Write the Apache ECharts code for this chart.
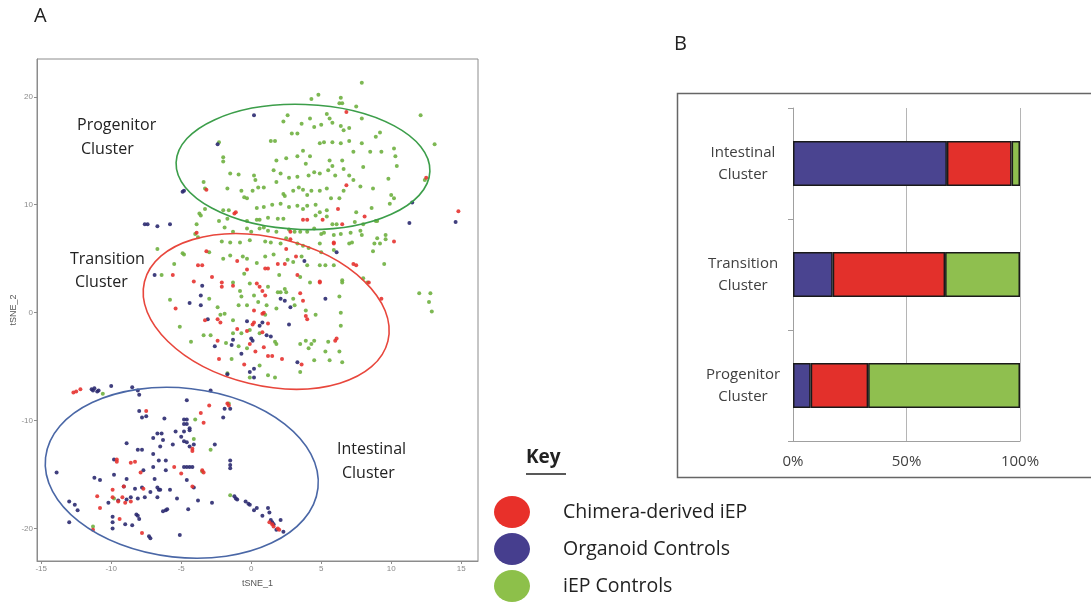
<!DOCTYPE html>
<html>
<head>
<meta charset="utf-8">
<script src="https://cdn.jsdelivr.net/npm/echarts@6/dist/echarts.min.js"></script>
<style>html,body{margin:0;padding:0;background:#fff;}#chart{width:1091px;height:603px;}</style>
</head>
<body>
<div id="chart"></div>
<script>
// ---------- Panel A: tSNE scatter ----------
var xTicks = [-15, -10, -5, 0, 5, 10, 15];
var yTicks = [-20, -10, 0, 10, 20];

var iepControls = [
[7.9,21.3],[4.8,20.2],[4.3,19.8],[6.4,19.9],[6.3,19.4],[6.5,19.4],[7.5,19.1],[12.1,18.3],[2.6,18.3],[4.2,18.0],[5.4,18.4],[5.6,18.0],[7.9,18.0],[2.3,17.7],[3.6,17.5],[4.5,17.2],[5.0,17.4],[5.8,17.6],[6.4,17.3],[7.0,17.1],[6.6,16.9],[9.2,16.7],[8.9,16.3],[2.9,16.6],[3.3,16.6],[-2.3,15.8],[1.4,15.9],[1.7,15.9],[4.9,15.7],[5.2,15.8],[5.8,15.8],[6.4,15.7],[7.0,15.9],[7.9,15.7],[13.1,15.6],[-2.0,14.4],[-2.0,14.0],[1.8,14.1],[2.5,14.3],[3.3,14.5],[3.7,15.0],[4.2,14.5],[3.9,13.8],[5.6,14.1],[5.8,13.6],[6.5,14.1],[7.3,14.9],[8.5,14.9],[8.0,13.5],[9.3,14.9],[10.2,15.2],[10.3,14.5],[10.4,13.6],[-1.5,12.9],[-0.9,12.8],[0.2,12.7],[0.3,12.3],[1.6,13.2],[2.1,12.9],[2.7,12.5],[3.3,12.6],[4.1,12.7],[4.5,13.0],[4.9,12.9],[5.5,13.2],[6.0,12.7],[6.6,13.3],[7.0,12.7],[7.3,12.3],[7.8,11.7],[9.8,12.4],[12.4,12.3],[-3.3,11.5],[-1.7,11.5],[-0.7,11.3],[-0.5,10.7],[-0.3,10.6],[0.1,11.3],[0.5,11.6],[0.9,11.6],[1.8,12.1],[2.3,11.0],[2.4,10.8],[3.0,11.3],[3.4,11.6],[3.7,11.4],[4.0,10.9],[4.3,11.3],[4.9,11.3],[5.4,11.5],[5.7,10.6],[6.3,10.6],[6.6,11.3],[8.7,11.5],[10.0,10.9],[10.2,10.6],[-3.7,9.2],[-3.6,9.0],[-2.0,9.5],[-1.6,9.5],[0.4,9.7],[0.9,9.8],[1.5,10.0],[2.1,10.1],[2.7,9.8],[3.3,9.9],[3.7,9.6],[4.0,9.9],[4.6,10.0],[4.9,9.3],[5.4,9.5],[7.5,9.3],[8.6,9.7],[9.0,8.5],[9.9,10.1],[-2.3,8.5],[-1.7,8.7],[-0.3,8.5],[0.4,8.6],[0.6,8.6],[1.2,8.8],[1.9,8.7],[2.3,8.7],[4.6,9.0],[5.4,8.9],[5.8,8.2],[6.1,8.2],[7.4,8.4],[8.0,8.2],[8.9,8.5],[-3.9,8.2],[-3.8,7.0],[-1.9,7.9],[-1.3,7.5],[-0.3,7.8],[0.0,7.5],[0.6,7.8],[0.9,7.9],[1.2,7.6],[1.8,7.5],[2.7,7.7],[3.1,7.5],[3.5,7.5],[4.0,7.5],[4.5,7.8],[5.0,7.3],[5.2,7.4],[5.9,7.2],[6.4,7.3],[7.1,7.4],[7.8,7.6],[9.0,6.9],[9.6,6.8],[9.2,6.4],[-6.7,5.9],[-4.9,5.5],[-3.0,5.6],[-2.1,6.6],[-1.5,6.5],[-0.8,6.5],[-0.1,6.7],[1.0,6.6],[1.4,6.5],[2.1,6.4],[2.5,6.9],[3.3,6.4],[3.7,6.2],[4.1,6.0],[4.9,6.4],[5.0,5.6],[5.9,5.8],[7.2,6.5],[8.7,5.7],[9.5,4.5],[7.0,6.4],[7.9,7.2],[8.8,6.4],[9.6,7.2],
[-6.4,3.5],[-5.5,4.5],[-4.8,5.4],[-4.0,7.3],[-3.3,9.6],[-3.4,12.1],[-2.0,5.0],[-1.5,5.3],[-0.6,5.2],[-0.3,5.0],[0.4,4.6],[1.0,5.2],[1.6,5.4],[2.6,4.9],[3.0,4.7],[3.6,5.2],[4.0,4.4],[4.9,4.4],[5.3,4.4],[5.9,4.4],[6.5,3.0],[8.0,3.2],[8.3,2.8],
[-1.3,2.8],[-0.1,2.7],[1.2,2.4],[1.9,1.9],[2.1,1.9],[2.4,2.2],[2.5,1.9],[4.2,2.8],[6.5,2.8],[0.2,1.6],[-0.8,2.0],[-0.7,1.5],[-5.8,1.2],[-3.0,1.3],[-2.4,0.5],[-1.9,-0.1],[-2.2,-0.2],[-0.9,0.7],[-0.3,0.7],[0.5,1.0],[1.0,-0.2],[1.1,0.7],[1.8,0.4],[3.0,1.3],[3.1,0.7],[3.9,0.2],[4.6,-0.2],[6.3,1.5],[6.4,0.0],[6.4,-1.2],[-1.3,-0.7],[-5.1,-1.3],[-3.4,-2.1],[-2.9,-2.1],[-4.3,-2.7],[-1.3,-1.9],[-0.7,-1.9],[-0.1,-1.6],[0.6,-1.9],[1.7,-2.7],[-1.8,-2.8],[-0.9,-3.1],[-0.3,-3.3],[1.8,-2.9],[3.5,-2.9],[3.9,-2.6],[4.3,-2.9],[4.5,-2.6],[4.1,-3.3],[5.5,-2.7],[6.3,-3.6],[5.3,-3.6],[3.5,-5.5],[4.5,-4.4],[5.6,-4.4],[6.5,-4.6],[-1.4,-4.3],[0.6,-4.9],[-0.1,-6.0],[1.2,-5.8],[1.7,-6.0],[-1.7,-5.6],[12.8,1.8],[12.7,1.0],[12.9,0.1],[12.0,1.8],[3.5,3.3],[2.0,3.5],[-0.5,3.6],
[-10.6,-7.5],[-4.0,-9.9],[-4.1,-11.7],[-2.9,-12.7],[-3.5,-14.7],[-9.8,-17.2],[-1.5,-16.9],[-11.3,-19.8],[-1.6,-8.4]
];

var chimeraIEP = [
[6.8,18.6],[12.5,12.5],[-3.2,11.4],[6.8,11.8],[-1.2,9.2],[6.2,9.6],[8.1,8.9],[3.7,8.6],[4.0,8.6],[5.1,8.6],[6.5,8.2],[-3.9,7.4],[2.8,7.5],[10.2,6.6],[-3.2,5.7],[2.8,6.8],[5.9,6.5],[7.5,4.4],[-3.8,4.4],[-3.5,4.4],[14.8,9.4],[-1.1,9.3],
[-5.6,3.5],[-1.0,4.8],[-0.3,4.0],[1.0,4.1],[1.2,4.1],[1.9,4.5],[2.4,4.5],[3.2,5.2],[2.5,5.9],[-2.8,3.3],[-2.1,2.8],[3.3,3.5],[5.9,6.4],[4.9,2.9],[8.4,2.8],[9.3,1.3],[7.3,4.5],
[-4.1,2.9],[-2.1,2.4],[-1.3,2.5],[0.6,2.4],[0.4,2.7],[1.0,1.6],[0.8,2.0],[3.5,1.8],[4.9,2.8],[-5.4,0.4],[0.2,0.2],[0.8,-0.1],[0.9,0.0],[3.7,1.1],[3.9,-0.3],[4.0,-0.6],[-3.3,-0.7],[-2.4,-0.6],[-2.2,-0.9],[0.1,-1.1],[0.2,-0.9],[1.2,-1.0],[-1.0,-1.5],[-0.3,-1.7],[0.8,-1.8],[-0.1,-2.9],[-2.4,-2.6],[0.3,-3.6],[0.9,-3.2],[2.2,-4.3],[1.2,-4.0],[1.5,-4.0],[6.0,-2.6],[6.1,-2.4],[3.6,-4.8],[-2.3,-4.3],[-0.5,-4.8],
[-12.7,-7.4],[-12.5,-7.3],[-12.2,-7.1],[-3.0,-8.6],[-1.7,-8.4],[-1.6,-8.6],[-3.6,-9.3],[-3.4,-10.2],[-7.5,-9.1],[-4.2,-12.6],[-4.2,-12.8],[-9.6,-13.6],[-9.6,-13.8],[-8.6,-13.9],[-8.3,-13.8],[-5.5,-14.3],[-7.9,-14.8],[-5.0,-14.9],[-3.5,-14.6],[-3.4,-14.8],[-4.2,-16.1],[-9.9,-16.4],[-9.1,-16.1],[-7.7,-16.3],[-11.0,-17.0],[-10.8,-18.1],[-9.9,-17.1],[-9.2,-17.1],[-9.5,-17.5],[-9.0,-17.6],[-8.6,-17.5],[-9.4,-19.1],[-7.8,-20.4],[1.3,-19.4],[1.5,-19.6],[1.6,-19.8],[1.9,-20.0],[2.0,-20.1],[-11.3,-20.1]
];

var organoidControls = [
[0.2,18.3],[-2.4,15.6],[11.5,10.2],[11.3,8.3],[14.6,8.4],[-7.6,8.2],[-7.4,8.2],[-6.7,8.0],[-5.8,8.2],[6.1,5.6],[-4.9,11.2],[-4.8,11.3],[-6.9,3.5],[3.8,4.8],
[-3.5,2.5],[-4.4,0.9],[-3.6,0.7],[-3.6,1.6],[2.1,1.3],[2.4,1.1],[2.8,0.5],[5.3,1.3],[-3.1,-0.6],[-0.3,-0.8],[0.6,-1.2],[0.8,-0.9],[2.7,-1.1],[1.1,-2.1],[1.4,-2.2],[0.0,-2.4],[0.1,-2.6],[-2.6,-3.1],[-1.4,-3.0],[-1.3,-2.5],[-0.7,-3.8],[3.3,-4.6],[0.2,-5.2],[-0.1,-5.5],[-1.7,-5.7],[0.2,-6.0],
[-11.4,-7.1],[-11.3,-7.2],[-11.2,-7.0],[-11.0,-7.3],[-10.9,-7.2],[-10.0,-6.8],[-8.5,-6.9],[-8.1,-7.2],[-8.0,-7.6],[-4.6,-8.1],[-2.9,-7.2],[-1.9,-8.9],[-1.5,-8.9],[-2.0,-9.7],[-8.0,-9.1],[-7.8,-9.7],[-7.5,-9.6],[-6.2,-9.8],[-4.8,-9.9],[-4.6,-9.9],[-4.8,-10.3],[-4.6,-10.3],[-5.4,-11.0],[-4.8,-11.0],[-4.4,-10.7],[-4.4,-10.9],[-6.7,-11.2],[-6.4,-11.2],[-7.0,-11.6],[-6.3,-11.8],[-5.0,-11.5],[-4.8,-11.9],[-4.6,-12.0],[-4.1,-12.2],[-4.4,-12.4],[-2.6,-12.2],[-5.6,-12.2],[-6.5,-12.4],[-8.9,-12.1],[-8.1,-12.7],[-7.8,-12.7],[-7.0,-13.1],[-9.8,-13.6],[-6.6,-13.7],[-6.1,-13.7],[-1.5,-13.7],[-1.5,-14.1],[-1.5,-14.4],[-4.8,-14.3],[-4.6,-14.3],[-4.4,-14.3],[-4.2,-14.3],[-6.1,-14.6],[-7.0,-14.3],[-7.7,-14.6],[-8.9,-15.4],[-6.9,-15.4],[-4.6,-15.5],[-4.1,-16.2],[-13.9,-14.8],[-11.2,-15.3],[-10.8,-15.5],[-9.8,-15.0],[-9.1,-16.1],[-8.3,-16.3],[-7.8,-16.2],[-6.7,-16.2],[-6.5,-16.4],[-5.8,-16.4],[-10.2,-17.6],[-9.5,-17.4],[-8.9,-17.3],[-8.6,-17.1],[-8.1,-17.2],[-7.6,-17.1],[-7.2,-16.6],[-6.7,-17.1],[-6.6,-16.4],[-6.3,-18.4],[-6.1,-18.3],[-6.0,-18.2],[-5.3,-17.2],[-4.5,-18.2],[-3.8,-17.4],[-2.8,-17.6],[-1.2,-17.0],[-1.1,-17.2],[-1.0,-17.3],[-0.4,-17.5],[-0.2,-17.7],[-0.1,-17.8],[0.2,-18.3],[0.4,-18.1],[0.8,-18.8],[1.2,-18.1],[1.3,-18.5],[1.4,-19.2],[1.5,-19.4],[1.6,-19.6],[1.8,-20.1],[2.1,-19.2],[2.3,-20.3],[-13.0,-17.5],[-12.6,-17.8],[-12.4,-18.3],[-13.0,-19.4],[-9.9,-18.9],[-9.9,-19.4],[-9.9,-20.0],[-9.0,-19.6],[-8.5,-19.7],[-8.2,-18.7],[-8.1,-18.8],[-8.0,-19.1],[-7.3,-20.7],[-7.2,-20.9],[-5.1,-20.6]
];

// cluster ellipses: [centre x, centre y, semi-axis x, semi-axis y, tilt deg clockwise]
var clusterEllipses = [
[3.7, 13.5, 9.07, 5.79, 2],
[1.07, 0.12, 8.95, 6.85, 13.7],
[-4.96, -14.83, 9.79, 7.84, 6.4]
];
var clusterEllipseColors = ['#3c9e4a', '#e8463c', '#4a67a6'];

// ---------- Panel B: stacked proportions ----------
var barCategories = ['Progenitor Cluster', 'Transition Cluster', 'Intestinal Cluster'];
var organoidShare = [7.8, 17.5, 67.8];
var chimeraShare = [25.3, 49.5, 28.5];
var iepShare = [66.9, 33.0, 3.7];

var legendNames = ['Chimera-derived iEP', 'Organoid Controls', 'iEP Controls'];

var FONT = 'Open Sans';
var chart = echarts.init(document.getElementById('chart'), null, {renderer: 'canvas'});

var ellipsePath = 'path://M0,16 A18,16 0 1,1 36,16 A18,16 0 1,1 0,16 Z';

var option = {
  backgroundColor: '#ffffff',
  animation: false,
  legend: {
    orient: 'vertical',
    left: 494,
    top: 496,
    padding: 0,
    height: 107,
    itemWidth: 36,
    itemHeight: 32,
    itemGap: 5,
    selectedMode: false,
    icon: ellipsePath,
    textStyle: {fontFamily: FONT, fontSize: 19.5, color: '#222', padding: [0, 0, 0, 28]},
    data: [
      {name: legendNames[0], itemStyle: {color: '#e8302a', opacity: 1}},
      {name: legendNames[1], itemStyle: {color: '#463e8e', opacity: 1}},
      {name: legendNames[2], itemStyle: {color: '#8dc04a', opacity: 1}}
    ]
  },
  grid: [
    {left: 37, top: 59, width: 441, height: 502, show: true, borderColor: '#8c8c8c', borderWidth: 1, backgroundColor: 'transparent'},
    {left: 793, top: 108, width: 227, height: 333}
  ],
  xAxis: [
    {
      gridIndex: 0, type: 'value', min: -15.3, max: 16.2,
      name: 'tSNE_1', nameLocation: 'middle', nameGap: 18,
      nameTextStyle: {fontFamily: 'Liberation Sans', fontSize: 9, color: '#555'},
      axisLine: {show: true, onZero: false, lineStyle: {color: '#8c8c8c'}},
      axisTick: {show: true, length: 3, customValues: xTicks, lineStyle: {color: '#8c8c8c'}},
      axisLabel: {customValues: xTicks, fontFamily: 'Liberation Sans', fontSize: 8, color: '#8a8a8a', margin: 4},
      splitLine: {show: false}
    },
    {
      gridIndex: 1, type: 'value', min: 0, max: 100, interval: 50,
      axisLine: {show: true, lineStyle: {color: '#a0a0a0'}},
      axisTick: {show: false},
      splitLine: {show: true, lineStyle: {color: '#b5b5b5'}},
      axisLabel: {formatter: '{value}%', fontFamily: FONT, fontSize: 15, color: '#404040', margin: 13}
    }
  ],
  yAxis: [
    {
      gridIndex: 0, type: 'value', min: -23, max: 23.5,
      name: 'tSNE_2', nameLocation: 'middle', nameGap: 19, nameRotate: 90,
      nameTextStyle: {fontFamily: 'Liberation Sans', fontSize: 9, color: '#555'},
      axisLine: {show: true, onZero: false, lineStyle: {color: '#8c8c8c'}},
      axisTick: {show: true, length: 3, customValues: yTicks, lineStyle: {color: '#8c8c8c'}},
      axisLabel: {customValues: yTicks, fontFamily: 'Liberation Sans', fontSize: 8, color: '#8a8a8a', margin: 4},
      splitLine: {show: false}
    },
    {
      gridIndex: 1, type: 'category', data: barCategories,
      axisLine: {show: true, lineStyle: {color: '#a0a0a0'}},
      axisTick: {show: true, length: 5, lineStyle: {color: '#a0a0a0'}},
      axisLabel: {
        formatter: function (s) { return s.replace(' ', '\n'); },
        align: 'center', margin: 50, fontFamily: FONT, fontSize: 15, lineHeight: 22, color: '#404040'
      }
    }
  ],
  series: [
    {name: legendNames[2], type: 'scatter', xAxisIndex: 0, yAxisIndex: 0, symbolSize: 4, data: iepControls, itemStyle: {color: '#6fb040', opacity: 0.9}, z: 2},
    {name: legendNames[1], type: 'scatter', xAxisIndex: 0, yAxisIndex: 0, symbolSize: 4, data: organoidControls, itemStyle: {color: '#2b2a70', opacity: 0.9}, z: 3},
    {name: legendNames[0], type: 'scatter', xAxisIndex: 0, yAxisIndex: 0, symbolSize: 4, data: chimeraIEP, itemStyle: {color: '#e63330', opacity: 0.9}, z: 4},
    {
      type: 'custom', xAxisIndex: 0, yAxisIndex: 0, silent: true, z: 5,
      data: clusterEllipses,
      renderItem: function (params, api) {
        var c = api.coord([api.value(0), api.value(1)]);
        var s = api.size([api.value(2), api.value(3)]);
        return {
          type: 'ellipse',
          x: c[0], y: c[1],
          rotation: -api.value(4) * Math.PI / 180,
          shape: {cx: 0, cy: 0, rx: s[0], ry: s[1]},
          style: {fill: 'none', stroke: clusterEllipseColors[params.dataIndex], lineWidth: 1.6}
        };
      }
    },
    {name: legendNames[1], type: 'bar', stack: 'share', xAxisIndex: 1, yAxisIndex: 1, barWidth: 45, data: organoidShare,
      itemStyle: {color: '#4a4490', borderColor: '#1a1a1a', borderWidth: 1.5}},
    {name: legendNames[0], type: 'bar', stack: 'share', xAxisIndex: 1, yAxisIndex: 1, barWidth: 45, data: chimeraShare,
      itemStyle: {color: '#e3302b', borderColor: '#1a1a1a', borderWidth: 1.5}},
    {name: legendNames[2], type: 'bar', stack: 'share', xAxisIndex: 1, yAxisIndex: 1, barWidth: 45, data: iepShare,
      itemStyle: {color: '#8fbf4f', borderColor: '#1a1a1a', borderWidth: 1.5}}
  ],
  graphic: [
    {type: 'text', left: 34, top: 6, style: {text: 'A', fontFamily: FONT, fontSize: 20, fill: '#222'}},
    {type: 'text', left: 674, top: 34, style: {text: 'B', fontFamily: FONT, fontSize: 20, fill: '#222'}},
    {type: 'text', left: 77, top: 117, style: {text: 'Progenitor', fontFamily: FONT, fontSize: 16, fill: '#222'}},
    {type: 'text', left: 81, top: 141, style: {text: 'Cluster', fontFamily: FONT, fontSize: 16, fill: '#222'}},
    {type: 'text', left: 70, top: 251, style: {text: 'Transition', fontFamily: FONT, fontSize: 16, fill: '#222'}},
    {type: 'text', left: 75, top: 274, style: {text: 'Cluster', fontFamily: FONT, fontSize: 16, fill: '#222'}},
    {type: 'text', left: 337, top: 441, style: {text: 'Intestinal', fontFamily: FONT, fontSize: 16, fill: '#222'}},
    {type: 'text', left: 342, top: 465, style: {text: 'Cluster', fontFamily: FONT, fontSize: 16, fill: '#222'}},
    {type: 'text', left: 526, top: 448, style: {text: 'Key', fontFamily: FONT, fontSize: 19, fontWeight: 'bold', fill: '#222'}},
    {type: 'line', shape: {x1: 526, y1: 474, x2: 566, y2: 474}, style: {stroke: '#222', lineWidth: 1.5}},
    {type: 'rect', shape: {x: 677.5, y: 93.5, width: 430, height: 384}, style: {fill: 'none', stroke: '#666', lineWidth: 1.5}, z: -1}
  ]
};
chart.setOption(option);
</script>
</body>
</html>
